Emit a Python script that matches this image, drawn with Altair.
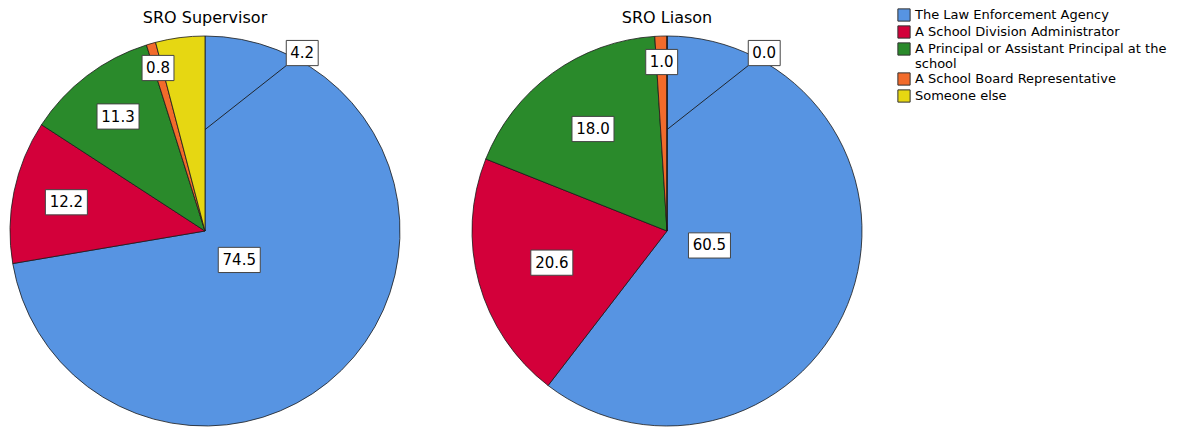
import altair as alt
import pandas as pd

# ---- data ----
categories = [
    "The Law Enforcement Agency",
    "A School Division Administrator",
    "A Principal or Assistant Principal at the school",
    "A School Board Representative",
    "Someone else",
]
supervisor_values = [74.5, 12.2, 11.3, 0.8, 4.2]
liason_values = [60.5, 20.6, 18.0, 1.0, 0.0]
panel_titles = ["SRO Supervisor", "SRO Liason"]

# ---- styles ----
colors = ["#5794E2", "#D3003A", "#2A8A2B", "#F26B2B", "#E6D712"]
FONT = "DejaVu Sans"
R = 195
SIZE = 2 * R
BOX4 = "M-1,-0.6L1,-0.6L1,0.6L-1,0.6Z"
BOX3 = "M-0.76,-0.6L0.76,-0.6L0.76,0.6L-0.76,0.6Z"
BOX_SIZE = 42 ** 2


def pie(values, title):
    df = pd.DataFrame({"category": categories, "value": values,
                       "order": list(range(len(categories)))})
    base = (
        alt.Chart(df)
        .transform_joinaggregate(total="sum(value)")
        .transform_window(cum="sum(value)", sort=[alt.SortField("order")], frame=[None, 0])
        .transform_calculate(
            a0="(datum.cum - datum.value) / datum.total * 2 * PI",
            a1="datum.cum / datum.total * 2 * PI",
            frac="datum.value / datum.total",
            label="format(datum.value, '.1f')",
            outside=f"datum.category == '{categories[-1]}'",
        )
        .transform_calculate(
            mid="(datum.a0 + datum.a1) / 2",
            rf="max(0.23, 0.88 - 1.3 * datum.frac)",
        )
        .transform_calculate(
            ang="datum.outside ? datum.a1 + 0.5 : datum.mid",
            rr="datum.outside ? 1.04 : datum.rf",
        )
        .transform_calculate(
            lx="datum.rr * sin(datum.ang)",
            ly="datum.rr * cos(datum.ang)",
            sx="0.52 * sin(datum.a1)",
            sy="0.52 * cos(datum.a1)",
        )
    )
    xs = alt.Scale(domain=[-1, 1])
    ys = alt.Scale(domain=[-1, 1])

    arcs = base.mark_arc(radius=R, stroke="#1a1a1a", strokeWidth=0.8).encode(
        theta=alt.Theta("value:Q", stack=True),
        color=alt.Color(
            "category:N",
            scale=alt.Scale(domain=categories, range=colors),
            sort=categories,
            legend=alt.Legend(
                title=None,
                orient="none",
                legendX=887,
                legendY=-28,
                symbolType="square",
                symbolSize=150,
                symbolStrokeColor="#333333",
                symbolStrokeWidth=1,
                symbolOpacity=1,
                labelFont=FONT,
                labelFontSize=13,
                labelColor="black",
                labelLimit=400,
                labelOffset=4,
                rowPadding=-1,
                padding=0,
                labelExpr=f"datum.label == '{categories[2]}' ? ['A Principal or Assistant Principal at the', 'school'] : datum.label",
            ),
        ),
        order=alt.Order("order:Q"),
    )
    lead = base.transform_filter("datum.outside").mark_rule(
        color="#1a1a1a", strokeWidth=0.9
    ).encode(
        x=alt.X("sx:Q", scale=xs, axis=None),
        y=alt.Y("sy:Q", scale=ys, axis=None),
        x2="lx:Q",
        y2="ly:Q",
    )
    box4 = base.transform_filter("length(datum.label) >= 4").mark_point(
        shape=BOX4, size=BOX_SIZE, filled=True, fill="white", stroke="#444444",
        strokeWidth=1, opacity=1,
    ).encode(x=alt.X("lx:Q", scale=xs, axis=None), y=alt.Y("ly:Q", scale=ys, axis=None))
    box3 = base.transform_filter("length(datum.label) < 4").mark_point(
        shape=BOX3, size=BOX_SIZE, filled=True, fill="white", stroke="#444444",
        strokeWidth=1, opacity=1,
    ).encode(x=alt.X("lx:Q", scale=xs, axis=None), y=alt.Y("ly:Q", scale=ys, axis=None))
    text = base.mark_text(font=FONT, fontSize=15, color="black").encode(
        x=alt.X("lx:Q", scale=xs, axis=None),
        y=alt.Y("ly:Q", scale=ys, axis=None),
        text="label:N",
    )
    return alt.layer(arcs, lead, box4, box3, text).properties(
        width=SIZE,
        height=SIZE,
        title=alt.TitleParams(title, font=FONT, fontSize=16, fontWeight="normal",
                              color="black", anchor="middle", offset=-5,
                              baseline="alphabetic"),
    )


chart = (
    alt.hconcat(
        pie(supervisor_values, panel_titles[0]),
        pie(liason_values, panel_titles[1]),
        spacing=68,
    )
    .properties(padding={"left": 0, "top": 0, "right": 0, "bottom": 0})
    .configure_view(stroke=None)
)

chart.save("out.html", embed_options={"renderer": "svg", "actions": False})
